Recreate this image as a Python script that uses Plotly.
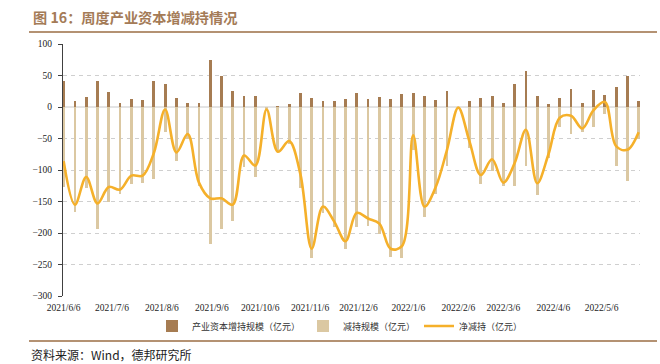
import pandas as pd
import plotly.graph_objects as go

# ---- data (亿元), weekly from 2021-06-06 ----
weeks = pd.date_range("2021-06-06", periods=52, freq="7D")

increase = [40.5, 10, 16, 40.5, 24, 7, 13, 11, 42, 36, 14, 7, 6,
            74, 49, 26, 17, 18, 0, 1, 4, 22, 14, 10, 9,
            12, 22, 12, 16, 13, 20, 23, 17, 11, 25, 0, 10, 14,
            18, 6, 36, 57, 18, 5, 15, 29, 6, 27, 19, 32, 50, 10]

decrease = [-127, -166, -128, -194, -151, -138, -123, -120, -114, -40, -86, -50, -126,
            -218, -194, -181, -95, -111, -4, -72, -58, -129, -239, -168, -191,
            -225, -190, -189, -201, -238, -240, -68, -175, -138, -93, -1, -65, -122,
            -101, -126, -125, -93, -139, -81, -32, -43, -40, -32, -11, -94, -118, -50]

net = [-86, -155, -111, -153, -127, -131, -109, -109, -73, -4, -72, -43, -120,
       -145, -145, -155, -77, -93, -4, -71, -54, -107, -225, -158, -182,
       -213, -168, -177, -185, -225, -221, -45, -158, -127, -68, -1, -55, -108,
       -83, -120, -89, -36, -121, -75, -17, -14, -34, -5, 8, -62, -68, -40]

tick_dates = ["2021-06-06", "2021-07-06", "2021-08-06", "2021-09-06", "2021-10-06",
              "2021-11-06", "2021-12-06", "2022-01-06", "2022-02-06", "2022-03-06",
              "2022-04-06", "2022-05-06"]
tick_labels = ["2021/6/6", "2021/7/6", "2021/8/6", "2021/9/6", "2021/10/6",
               "2021/11/6", "2021/12/6", "2022/1/6", "2022/2/6", "2022/3/6",
               "2022/4/6", "2022/5/6"]

names = ["产业资本增持规模（亿元）", "减持规模（亿元）", "净减持（亿元）"]

C_INC = "#A67C52"
C_DEC = "#DBC8A2"
C_NET = "#F5B02A"
C_TITLE = "#A47B57"

CJK = "Noto Sans CJK SC"
SERIF = "Liberation Serif"

bar_w = 1.75 * 86400000  # ms

fig = go.Figure()
fig.add_trace(go.Bar(x=weeks, y=increase, name=names[0], marker_color=C_INC,
                     marker_line_width=0, width=bar_w, legend="legend"))
fig.add_trace(go.Bar(x=weeks, y=decrease, name=names[1], marker_color=C_DEC,
                     marker_line_width=0, width=bar_w, legend="legend2"))
fig.add_trace(go.Scatter(x=weeks, y=net, name=names[2], mode="lines",
                         line=dict(color=C_NET, width=2.6, shape="spline", smoothing=1.0),
                         legend="legend3"))

L, R, T, B = 63, 20, 44, 68
W, H = 660, 364
pw = W - L - R
ph = H - T - B


def px_x(p):
    return (p - L) / pw


def px_y(p):
    return (H - B - p) / ph


leg_common = dict(orientation="h", yanchor="middle", xanchor="left",
                  bgcolor="rgba(0,0,0,0)", font=dict(family=CJK, size=9, color="#333"),
                  itemwidth=30, tracegroupgap=0)

fig.update_layout(
    width=W, height=H,
    margin=dict(l=L, r=R, t=T, b=B),
    paper_bgcolor="white", plot_bgcolor="white",
    barmode="relative", bargap=0,
    showlegend=True,
    legend=dict(x=px_x(152), y=px_y(326), **leg_common),
    legend2=dict(x=px_x(303), y=px_y(326), **leg_common),
    legend3=dict(x=px_x(419), y=px_y(326), **leg_common),
    xaxis=dict(
        type="date",
        range=["2021-06-05 14:00", "2022-05-29 20:00"],
        tickvals=tick_dates, ticktext=tick_labels,
        tickfont=dict(family=SERIF, size=9.5, color="#222"),
        showgrid=False, showline=False, ticks="", zeroline=False,
        ticklabelstandoff=4,
    ),
    yaxis=dict(
        range=[-300, 100], dtick=50, tick0=0,
        showgrid=True, gridcolor="#CFCFCF", griddash="4px,4px", gridwidth=1,
        zeroline=True, zerolinecolor="#E4E4E4", zerolinewidth=2,
        showline=True, linecolor="#404040", linewidth=1,
        ticks="outside", ticklen=4, tickcolor="#404040",
        tickfont=dict(family=SERIF, size=9.5, color="#222"),
        ticklabelstandoff=4,
    ),
    annotations=[
        dict(text="<b>图 16：周度产业资本增减持情况</b>", xref="paper", yref="paper",
             x=px_x(31), y=px_y(17), xanchor="left", yanchor="middle", showarrow=False,
             font=dict(family=CJK, size=14.2, color=C_TITLE)),
        dict(text="资料来源：Wind，德邦研究所", xref="paper", yref="paper",
             x=px_x(29), y=px_y(354), xanchor="left", yanchor="middle", showarrow=False,
             font=dict(family=CJK, size=12, color="#222")),
    ],
    shapes=[
        dict(type="line", xref="paper", yref="paper", x0=px_x(29), x1=px_x(657),
             y0=px_y(32), y1=px_y(32), line=dict(color="#B49273", width=2)),
        dict(type="line", xref="paper", yref="paper", x0=px_x(29), x1=px_x(657),
             y0=px_y(341), y1=px_y(341), line=dict(color="#B49273", width=2)),
    ],
)

fig.write_html("out.html",
               config={"displayModeBar": False},
               post_script="document.body.style.margin='0';document.body.style.overflow='hidden';")
